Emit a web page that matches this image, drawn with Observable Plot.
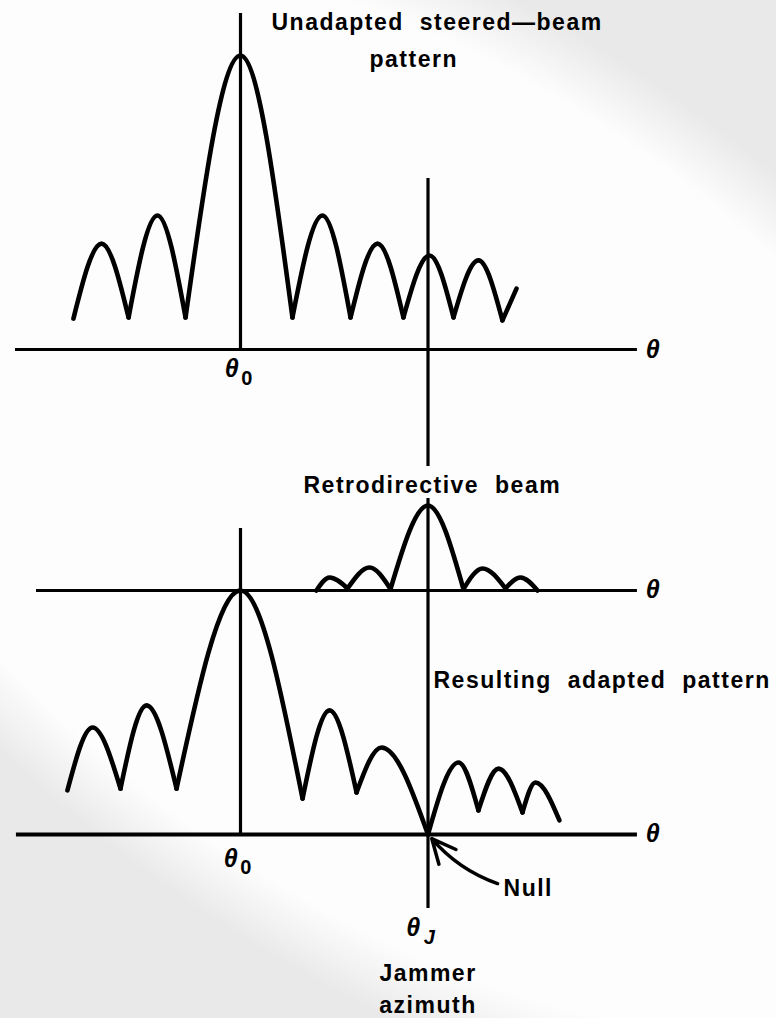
<!DOCTYPE html>
<html><head><meta charset="utf-8">
<script src="https://cdn.jsdelivr.net/npm/d3@7"></script>
<script src="https://cdn.jsdelivr.net/npm/@observablehq/plot@0.6"></script>
<style>
html,body{margin:0;padding:0;width:776px;height:1018px;overflow:hidden;background:#e9e9e9;}
#bg{position:absolute;left:425px;top:495px;width:1700px;height:940px;margin-left:-850px;margin-top:-470px;transform:rotate(36deg);background:radial-gradient(ellipse closest-side,#fdfdfd 86%,#e9e9e9 100%);}
#chart{position:absolute;left:0;top:0;}
#chart text{letter-spacing:1.5px;word-spacing:8px;}
</style></head>
<body><div id="bg"></div><div id="chart"></div>
<script>
// angles: steering direction theta0 = 0, jammer azimuth thetaJ = 10
const theta0 = 0;
const thetaJ = 10;

// Unadapted steered-beam pattern (cusps at even indexes, lobe peaks at odd indexes)
const unadaptedTheta = [-8.91, -7.41, -5.97, -4.43, -2.93, 0, 2.77, 4.37, 5.87, 7.31, 8.69, 10.08, 11.36, 12.69, 13.97, 14.72];
const unadaptedGain  = [0.105, 0.36, 0.109, 0.456, 0.109, 1.0, 0.109, 0.456, 0.109, 0.36, 0.109, 0.32, 0.109, 0.303, 0.099, 0.207];

// Retrodirective beam
const retroTheta = [4.05, 4.75, 5.71, 6.88, 8.0, 10, 11.89, 12.91, 14.13, 14.93, 15.84];
const retroGain  = [0, 0.044, 0.007, 0.078, 0.005, 0.289, 0.005, 0.075, 0.007, 0.044, 0];

// Resulting adapted pattern
const adaptedTheta = [-9.23, -7.89, -6.4, -5.01, -3.41, 0, 3.31, 4.75, 6.19, 7.52, 10, 11.63, 12.69, 13.76, 15.04, 15.73, 17.01];
const adaptedGain  = [0.15, 0.364, 0.156, 0.439, 0.156, 0.83, 0.122, 0.422, 0.143, 0.296, 0, 0.245, 0.082, 0.224, 0.075, 0.177, 0.048];

// text
const titleTop = ["Unadapted steered\u2014beam", "pattern"];
const titleRetro = "Retrodirective beam";
const titleAdapted = "Resulting adapted pattern";
const nullLabel = "Null";
const jammerLabel = ["Jammer", "azimuth"];

// layout (vertical offsets of the three baselines, in gain units)
const TOP = 2.2755, RETRO = 1.4558, LOWER = 0.6259;
const AXIS_END = 21.17;

function lobes(thetas, gains, base, name) {
  const out = [];
  for (let i = 0; i < thetas.length - 1; i += 2) {
    [i, i + 1, i + 2].filter(j => j < thetas.length).forEach(j =>
      out.push({lobe: name + i, theta: thetas[j], g: base + gains[j]}));
  }
  return out;
}
const curves = [
  ...lobes(unadaptedTheta, unadaptedGain, TOP, "u"),
  ...lobes(retroTheta, retroGain, RETRO, "r"),
  ...lobes(adaptedTheta, adaptedGain, LOWER, "a")
];

const axes = [
  {g: TOP, x1: -12.0, x2: AXIS_END, w: 3},
  {g: RETRO, x1: -10.88, x2: AXIS_END, w: 3},
  {g: LOWER, x1: -11.95, x2: AXIS_END, w: 4}
];
const verticals = [
  {theta: theta0, g1: TOP, g2: 3.4184},
  {theta: thetaJ, g1: 1.8776, g2: 2.857},
  {theta: thetaJ, g1: 0.3741, g2: 1.7687},
  {theta: theta0, g1: LOWER, g2: 1.6667}
];

const font = "Liberation Sans, Arial, Helvetica, sans-serif";
const txt = {fontFamily: font, fontSize: 23, fontWeight: "bold", fill: "black"};
const sym = {fontFamily: font, fontSize: 25, fontWeight: "bold", fontStyle: "italic", fill: "black"};
const sub = {fontFamily: font, fontSize: 20, fontWeight: "bold", fill: "black"};
const one = v => [v];

const plot = Plot.plot({
  width: 776, height: 1018,
  margin: 0,
  x: {domain: [-12.8, 28.5867], axis: null},
  y: {domain: [0, 3.4626], axis: null},
  style: {background: "transparent", overflow: "visible"},
  marks: [
    Plot.ruleY(axes, {y: "g", x1: "x1", x2: "x2", strokeWidth: d => d.w, stroke: "black"}),
    Plot.ruleX(verticals, {x: "theta", y1: "g1", y2: "g2", strokeWidth: 3.2, stroke: "black"}),
    Plot.line(curves, {x: "theta", y: "g", z: "lobe", curve: "monotone-x", stroke: "black", strokeWidth: 4.6, strokeLinecap: "round", strokeLinejoin: "round"}),
    Plot.arrow([{x1: 13.71, y1: 0.459, x2: 10.2, y2: 0.612}], {x1: "x1", y1: "y1", x2: "x2", y2: "y2", bend: 15, headLength: 16, headAngle: 50, stroke: "black", strokeWidth: 3.5}),
    // axis symbols
    Plot.text(axes, {x: AXIS_END, y: "g", text: () => "\u03b8", dx: 16, ...sym}),
    Plot.text(one(TOP), {x: theta0, y: d => d, text: () => "\u03b8", dx: -8, dy: 19, ...sym}),
    Plot.text(one(TOP), {x: theta0, y: d => d, text: () => "0", dx: 7, dy: 29, ...sub}),
    Plot.text(one(LOWER), {x: theta0, y: d => d, text: () => "\u03b8", dx: -9, dy: 25, ...sym}),
    Plot.text(one(LOWER), {x: theta0, y: d => d, text: () => "0", dx: 6, dy: 33, ...sub}),
    Plot.text(one(LOWER), {x: thetaJ, y: d => d, text: () => "\u03b8", dx: -14, dy: 94, ...sym}),
    Plot.text(one(LOWER), {x: thetaJ, y: d => d, text: () => "J", dx: 2, dy: 103, ...sub, fontStyle: "italic"}),
    // titles
    Plot.text(one(titleTop[0]), {x: 1.653, y: 3.3878, text: d => d, textAnchor: "start", ...txt}),
    Plot.text(one(titleTop[1]), {x: 6.88, y: 3.2619, text: d => d, textAnchor: "start", ...txt}),
    Plot.text(one(titleRetro), {x: 3.36, y: 1.8129, text: d => d, textAnchor: "start", ...txt}),
    Plot.text(one(titleAdapted), {x: 10.293, y: 1.1497, text: d => d, textAnchor: "start", ...txt}),
    Plot.text(one(nullLabel), {x: 14.03, y: 0.4422, text: d => d, textAnchor: "start", ...txt}),
    Plot.text(one(jammerLabel[0]), {x: thetaJ, y: 0.153, text: d => d, textAnchor: "middle", ...txt}),
    Plot.text(one(jammerLabel[1]), {x: thetaJ, y: 0.0442, text: d => d, textAnchor: "middle", ...txt})
  ]
});
document.getElementById("chart").appendChild(plot);
</script>
</body></html>
